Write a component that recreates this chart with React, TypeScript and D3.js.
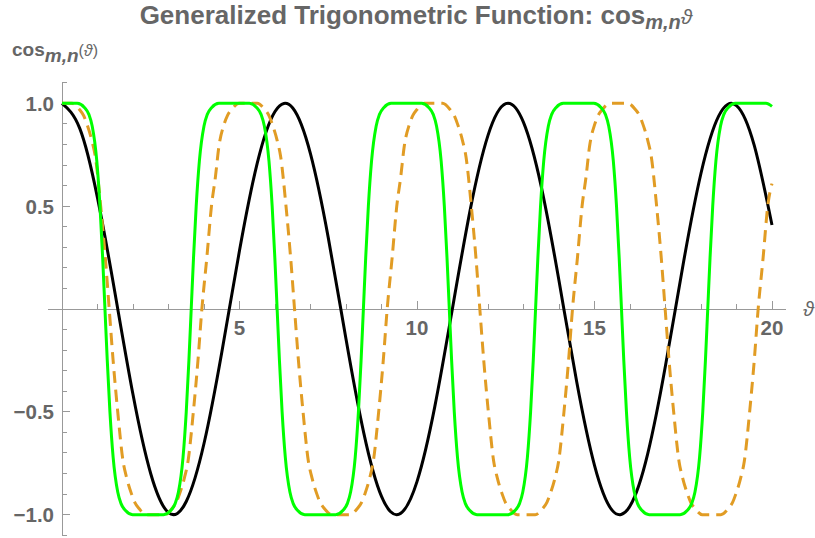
import React from 'react';
import * as d3 from 'd3';

const W = 815;
const H = 538;

// black: ordinary cosine, read every half unit
const blackPoints: [number, number][] = [
  [0, 1], [0.5, 0.878], [1, 0.54], [1.5, 0.071], [2, -0.416], [2.5, -0.801], [3, -0.99],
  [3.5, -0.936], [4, -0.654], [4.5, -0.211], [5, 0.284], [5.5, 0.709], [6, 0.96],
  [6.5, 0.977], [7, 0.754], [7.5, 0.347], [8, -0.146], [8.5, -0.602], [9, -0.911],
  [9.5, -0.997], [10, -0.839], [10.5, -0.476], [11, 0.004], [11.5, 0.483], [12, 0.844],
  [12.5, 0.998], [13, 0.907], [13.5, 0.595], [14, 0.137], [14.5, -0.355], [15, -0.76],
  [15.5, -0.979], [16, -0.958], [16.5, -0.703], [17, -0.275], [17.5, 0.22], [18, 0.66],
  [18.5, 0.939], [19, 0.989], [19.5, 0.795], [20, 0.408],
];

// orange dashed curve
const orangePoints: [number, number][] = [
  [0, 1], [0.28, 1], [0.49, 0.97], [0.61, 0.94], [0.7, 0.9], [0.84, 0.82], [0.94, 0.74],
  [1.09, 0.5], [1.22, 0.25], [1.33, 0], [1.44, -0.25], [1.57, -0.5], [1.72, -0.74],
  [1.82, -0.82], [1.96, -0.9], [2.05, -0.94], [2.17, -0.97], [2.38, -1],
  [2.89, -1], [3.1, -0.97], [3.22, -0.94], [3.31, -0.9], [3.45, -0.82], [3.55, -0.74],
  [3.7, -0.5], [3.83, -0.25], [3.94, 0], [4.08, 0.25], [4.21, 0.5], [4.32, 0.64],
  [4.42, 0.79], [4.57, 0.9], [4.66, 0.94], [4.78, 0.97], [4.99, 1],
  [5.5, 1], [5.71, 0.97], [5.83, 0.94], [5.92, 0.9], [6.06, 0.82], [6.16, 0.74],
  [6.31, 0.5], [6.44, 0.25], [6.55, 0], [6.66, -0.25], [6.79, -0.5], [6.94, -0.74],
  [7.04, -0.82], [7.18, -0.9], [7.27, -0.94], [7.39, -0.97], [7.6, -1],
  [8.11, -1], [8.32, -0.97], [8.44, -0.94], [8.53, -0.9], [8.67, -0.82], [8.77, -0.74],
  [8.92, -0.5], [9.05, -0.25], [9.16, 0], [9.3, 0.25], [9.43, 0.5], [9.54, 0.64],
  [9.64, 0.79], [9.79, 0.9], [9.88, 0.94], [10.0, 0.97], [10.21, 1],
  [10.72, 1], [10.93, 0.97], [11.05, 0.94], [11.14, 0.9], [11.28, 0.82], [11.38, 0.74],
  [11.53, 0.5], [11.66, 0.25], [11.77, 0], [11.88, -0.25], [12.01, -0.5], [12.16, -0.74],
  [12.26, -0.82], [12.4, -0.9], [12.49, -0.94], [12.61, -0.97], [12.82, -1],
  [13.33, -1], [13.54, -0.97], [13.66, -0.94], [13.75, -0.9], [13.89, -0.82], [13.99, -0.74],
  [14.14, -0.5], [14.27, -0.25], [14.38, 0], [14.52, 0.25], [14.65, 0.5], [14.76, 0.64],
  [14.86, 0.79], [15.01, 0.9], [15.1, 0.94], [15.22, 0.97], [15.43, 1],
  [15.94, 1], [16.15, 0.97], [16.27, 0.94], [16.36, 0.9], [16.5, 0.82], [16.6, 0.74],
  [16.75, 0.5], [16.88, 0.25], [16.99, 0], [17.1, -0.25], [17.23, -0.5], [17.38, -0.74],
  [17.48, -0.82], [17.62, -0.9], [17.71, -0.94], [17.83, -0.97], [18.04, -1],
  [18.56, -1], [18.77, -0.97], [18.89, -0.94], [18.98, -0.9], [19.12, -0.82], [19.22, -0.74],
  [19.37, -0.5], [19.5, -0.25], [19.61, 0], [19.75, 0.25], [19.88, 0.5], [20, 0.61],
];

// green curve
const greenPoints: [number, number][] = [
  [0, 1], [0.43, 1], [0.63, 0.98], [0.76, 0.945], [0.85, 0.89], [0.98, 0.72], [1.07, 0.5],
  [1.145, 0.25], [1.21, 0], [1.275, -0.25], [1.35, -0.5], [1.44, -0.72], [1.57, -0.89],
  [1.66, -0.945], [1.79, -0.98], [1.99, -1],
  [2.86, -1], [3.06, -0.98], [3.19, -0.945], [3.28, -0.89], [3.41, -0.72], [3.5, -0.5],
  [3.575, -0.25], [3.64, 0], [3.705, 0.25], [3.78, 0.5], [3.87, 0.72], [4.0, 0.89],
  [4.09, 0.945], [4.22, 0.98], [4.42, 1],
  [5.28, 1], [5.48, 0.98], [5.61, 0.945], [5.7, 0.89], [5.83, 0.72], [5.92, 0.5],
  [5.995, 0.25], [6.06, 0], [6.125, -0.25], [6.2, -0.5], [6.29, -0.72], [6.42, -0.89],
  [6.51, -0.945], [6.64, -0.98], [6.84, -1],
  [7.71, -1], [7.91, -0.98], [8.04, -0.945], [8.13, -0.89], [8.26, -0.72], [8.35, -0.5],
  [8.425, -0.25], [8.49, 0], [8.555, 0.25], [8.63, 0.5], [8.72, 0.72], [8.85, 0.89],
  [8.94, 0.945], [9.07, 0.98], [9.27, 1],
  [10.13, 1], [10.33, 0.98], [10.46, 0.945], [10.55, 0.89], [10.68, 0.72], [10.77, 0.5],
  [10.845, 0.25], [10.91, 0], [10.975, -0.25], [11.05, -0.5], [11.14, -0.72], [11.27, -0.89],
  [11.36, -0.945], [11.49, -0.98], [11.69, -1],
  [12.56, -1], [12.76, -0.98], [12.89, -0.945], [12.98, -0.89], [13.11, -0.72], [13.2, -0.5],
  [13.275, -0.25], [13.34, 0], [13.405, 0.25], [13.48, 0.5], [13.57, 0.72], [13.7, 0.89],
  [13.79, 0.945], [13.92, 0.98], [14.12, 1],
  [14.98, 1], [15.18, 0.98], [15.31, 0.945], [15.4, 0.89], [15.53, 0.72], [15.62, 0.5],
  [15.695, 0.25], [15.76, 0], [15.825, -0.25], [15.9, -0.5], [15.99, -0.72], [16.12, -0.89],
  [16.21, -0.945], [16.34, -0.98], [16.54, -1],
  [17.41, -1], [17.61, -0.98], [17.74, -0.945], [17.83, -0.89], [17.96, -0.72], [18.05, -0.5],
  [18.125, -0.25], [18.19, 0], [18.255, 0.25], [18.33, 0.5], [18.42, 0.72], [18.55, 0.89],
  [18.64, 0.945], [18.77, 0.98], [18.97, 1],
  [19.83, 1], [20, 0.985],
];

const xTickLabels = [5, 10, 15, 20];
const yTickLabels = [-1, -0.5, 0.5, 1];

const gray = '#666';
const axisGray = '#999';
const font = '"Liberation Sans", Arial, sans-serif';

export default function App() {
  const x = d3.scaleLinear().domain([0, 20]).range([62, 772]);
  const y = d3.scaleLinear().domain([-1, 1]).range([514.7, 103.3]);

  const smooth = d3.line<[number, number]>().x(d => x(d[0])).y(d => y(d[1])).curve(d3.curveNatural);
  const mono = d3.line<[number, number]>().x(d => x(d[0])).y(d => y(d[1])).curve(d3.curveMonotoneX);

  const xMinor = d3.range(1, 21);
  const yMinor = d3.range(-11, 12).filter(i => i !== 0).map(i => i / 10);
  const fmt = (v: number) => (v < 0 ? '\u2212' : '') + Math.abs(v).toFixed(1);

  return (
    <svg width={W} height={H} style={{ position: 'absolute', left: 0, top: 0, background: '#fff' }}
      fontFamily={font}>
      {/* title */}
      <text x={416} y={24} textAnchor="middle" fill={gray} fontWeight="bold" fontSize={26}>
        Generalized Trigonometric Function: cos
        <tspan fontStyle="italic" fontSize={20} dy={5}>m,n</tspan>
        <tspan fontStyle="italic" fontWeight="normal" fontSize={21} dy={-5}>ϑ</tspan>
      </text>

      {/* y axis label */}
      <text x={12} y={56} fill={gray} fontWeight="bold" fontSize={19}>
        cos
        <tspan fontStyle="italic" fontSize={19} dy={6}>m,n</tspan>
        <tspan fontWeight="normal" fontSize={16} dy={-6}>(</tspan>
        <tspan fontWeight="normal" fontStyle="italic" fontSize={16}>ϑ</tspan>
        <tspan fontWeight="normal" fontSize={16}>)</tspan>
      </text>

      {/* axes */}
      <g stroke={axisGray} strokeWidth={1} shapeRendering="crispEdges">
        <line x1={x(-0.39)} x2={x(20.4)} y1={y(0)} y2={y(0)} />
        <line x1={x(0)} x2={x(0)} y1={y(1.1)} y2={y(-1.1)} />
        {xMinor.map(t => (
          <line key={'xt' + t} x1={x(t)} x2={x(t)} y1={y(0)}
            y2={y(0) - (xTickLabels.includes(t) ? 8 : 5)} />
        ))}
        {yMinor.map(t => (
          <line key={'yt' + t} x1={x(0)} y1={y(t)} y2={y(t)}
            x2={x(0) + (yTickLabels.some(v => Math.abs(v - t) < 1e-9) ? 8 : 5)} />
        ))}
      </g>

      {/* tick labels */}
      <g fill={gray} fontWeight="bold" fontSize={20.5}>
        {xTickLabels.map(t => (
          <text key={'xl' + t} x={x(t)} y={335} textAnchor="middle">{t}</text>
        ))}
        {yTickLabels.map(t => (
          <text key={'yl' + t} x={54} y={y(t) + 7.5} textAnchor="end">{fmt(t)}</text>
        ))}
      </g>
      <text x={803} y={316} fill={gray} fontStyle="italic" fontSize={20}>ϑ</text>

      {/* curves */}
      <g fill="none" strokeLinejoin="round">
        <path d={smooth(blackPoints) ?? ''} stroke="#000" strokeWidth={3} />
        <path d={mono(orangePoints) ?? ''} stroke="#E19C24" strokeWidth={3} strokeDasharray="12,7" />
        <path d={mono(greenPoints) ?? ''} stroke="#00FF00" strokeWidth={3} />
      </g>
    </svg>
  );
}
